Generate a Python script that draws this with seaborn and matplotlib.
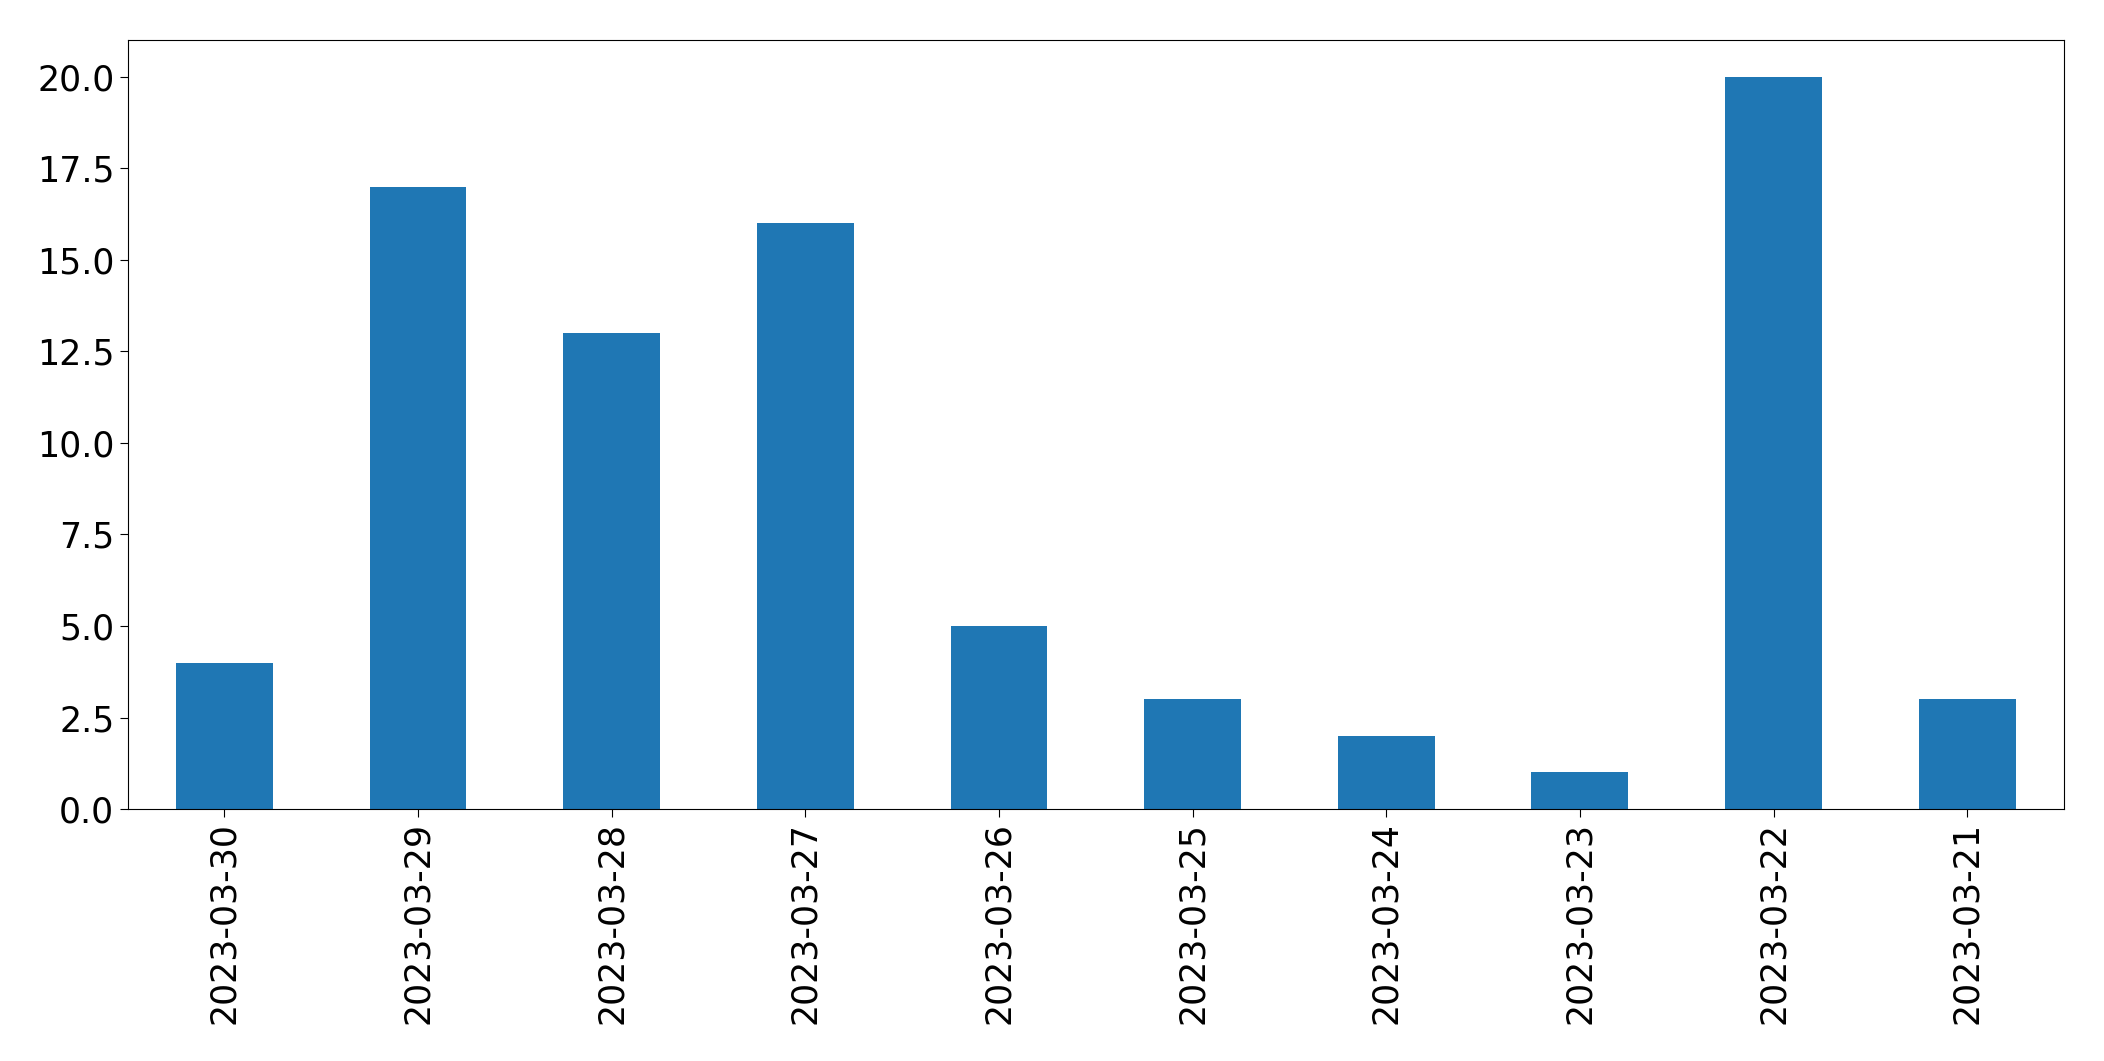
import matplotlib
matplotlib.use("Agg")
import matplotlib.pyplot as plt
import seaborn as sns
import pandas as pd

dates = ["2023-03-30", "2023-03-29", "2023-03-28", "2023-03-27", "2023-03-26",
         "2023-03-25", "2023-03-24", "2023-03-23", "2023-03-22", "2023-03-21"]
counts = [4, 17, 13, 16, 5, 3, 2, 1, 20, 3]

df = pd.DataFrame({"date": dates, "count": counts})

fig, ax = plt.subplots(figsize=(21.04, 10.61), dpi=100)
fig.subplots_adjust(left=0.0606, right=0.981, top=0.962, bottom=0.2375)

sns.barplot(data=df, x="date", y="count", color="#1f77b4", saturation=1,
            width=0.5, linewidth=0, ax=ax)

ax.set_xlim(-0.5, len(dates) - 0.5)
ax.set_ylim(0, 21)
yt = [0, 2.5, 5, 7.5, 10, 12.5, 15, 17.5, 20]
ax.set_yticks(yt)
ax.set_yticklabels([f"{v:.1f}" for v in yt])
ax.set_xlabel("")
ax.set_ylabel("")
ax.tick_params(axis="both", labelsize=25, length=6)
plt.setp(ax.get_xticklabels(), rotation=90)

fig.savefig("out.png", dpi=100)
